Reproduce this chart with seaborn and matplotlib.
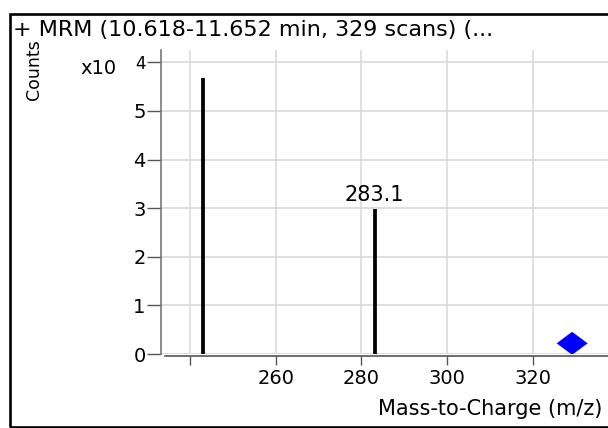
import matplotlib
matplotlib.use("Agg")
import matplotlib.pyplot as plt
from matplotlib.markers import MarkerStyle
from matplotlib.patches import Rectangle
import seaborn as sns
import pandas as pd

# Product-ion spectrum (MRM), counts per m/z
peak_mz = [243.1, 283.1]
peak_counts = [56730, 29770]
labeled_mz = [283.1]

# Precursor ion marker
precursor_mz = [329.2]
precursor_counts = [2200]

x_ticks = [240, 260, 280, 300, 320, 340]
x_tick_labels = ["", "260", "280", "300", "320", ""]
y_ticks = [0, 10000, 20000, 30000, 40000, 50000, 60000]
y_tick_labels = ["0", "1", "2", "3", "4", "5", "4"]

title = "+ MRM (10.618-11.652 min, 329 scans) (..."

sns.set_theme(style="white")
plt.rcParams["font.family"] = ["DejaVu Sans"]

W, H = 608, 428
fig = plt.figure(figsize=(W / 100, H / 100), dpi=100)
fig.patch.set_facecolor("white")

px_per_mz = 4.284
x_left_px, x_right_px = 161, 640
xmin = 240 - (190 - x_left_px) / px_per_mz
xmax = 240 + (x_right_px - 190) / px_per_mz
ax = fig.add_axes([x_left_px / W, 74 / H, (x_right_px - x_left_px) / W, 304 / H])

ax.set_xlim(xmin, xmax)
ax.set_ylim(0, 62550)

# spectrum sticks
ax.vlines(peak_mz, 0, peak_counts, color="black", linewidth=2.7, zorder=3)
for mz, c in zip(peak_mz, peak_counts):
    if mz in labeled_mz:
        ax.annotate(f"{mz:.1f}", xy=(mz, c), xytext=(0, 8.5),
                    textcoords="offset pixels", ha="center", va="baseline",
                    fontsize=15, color="black")

# precursor diamond
diamond = MarkerStyle([(-1, 0), (0, 0.74), (1, 0), (0, -0.74), (-1, 0)])
df_prec = pd.DataFrame({"mz": precursor_mz, "counts": precursor_counts})
sns.scatterplot(data=df_prec, x="mz", y="counts", marker=diamond, s=500,
                color="#0000ff", edgecolor="none", ax=ax, zorder=4, legend=False)

# axes styling
ax.set_xticks(x_ticks)
ax.set_xticklabels(x_tick_labels)
ax.set_yticks(y_ticks)
ax.set_yticklabels(y_tick_labels)

ax.grid(True, color="#dcdcdc", linewidth=1.3)
ax.set_axisbelow(True)

for s in ("top", "right"):
    ax.spines[s].set_visible(False)
ax.spines["left"].set_color("#777777")
ax.spines["left"].set_linewidth(1.2)
ax.spines["bottom"].set_color("#555555")
ax.spines["bottom"].set_linewidth(1.2)
ax.spines["bottom"].set_position(("outward", 1.5))
ax.spines["bottom"].set_bounds(xmin + 4 / px_per_mz, xmax)

ax.tick_params(axis="y", direction="out", length=10, width=1, color="#555555",
               pad=1, labelsize=14, labelcolor="black", left=True)
ax.tick_params(axis="x", direction="out", length=6.5, width=1, color="#555555",
               pad=3, labelsize=14, labelcolor="black", bottom=True)

# the top tick carries the exponent, drawn smaller
top_tick = ax.yaxis.get_major_ticks()[-1]
top_tick.label1.set_fontsize(12)

# exponent prefix next to the top tick
ax.annotate("x10", xy=(0, 60000), xycoords=("axes fraction", "data"),
            xytext=(-44, -12), textcoords="offset pixels",
            ha="right", va="baseline", fontsize=14, color="black")

ax.set_xlabel("Mass-to-Charge (m/z)", fontsize=15, color="black")
ax.xaxis.label.set_ha("right")
ax.xaxis.label.set_va("baseline")
ax.xaxis.set_label_coords((602 - x_left_px) / (x_right_px - x_left_px), (354 - 415) / 304)

ax.set_ylabel("Counts", fontsize=12.5, color="black")
ax.yaxis.label.set_va("center")
ax.yaxis.label.set_ha("center")
ax.yaxis.set_label_coords((34 - x_left_px) / (x_right_px - x_left_px), (354 - 70) / 304)

fig.text(13 / W, (H - 36) / H, title, ha="left", va="baseline",
         fontsize=16, color="black")

# panel frame
frame = Rectangle((9.5 / W, 1.3 / H), (625 - 9.5) / W, (426.7 - 14) / H,
                  transform=fig.transFigure, fill=False, edgecolor="black",
                  linewidth=1.9, clip_on=False)
fig.add_artist(frame)

fig.savefig("out.png", dpi=100)
